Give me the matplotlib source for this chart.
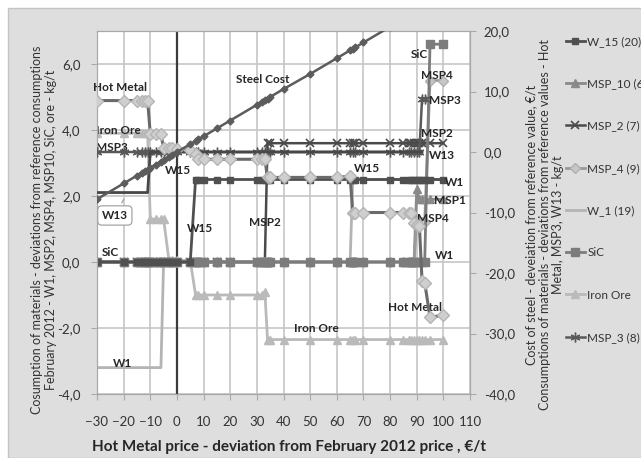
import numpy as np
import matplotlib.pyplot as plt
from matplotlib.patches import Rectangle
from matplotlib.ticker import FuncFormatter, MultipleLocator

plt.rcParams['font.family'] = ['Lato', 'DejaVu Sans']

# Hot Metal price deviation from February 2012 price, EUR/t
x_price = [-30, -20, -15, -13, -12, -11, -10, -8, -6, -5, -3, -2, 0, 5, 7, 8, 10, 15,
           20, 30, 32, 33, 34, 35, 40, 50, 60, 65, 66, 67, 70, 80, 85, 87, 88, 89,
           90, 91, 92, 93, 95, 100]

nan = np.nan

# left axis series, kg/t
w15 = [0.0] * 14 + [2.5] * 28
msp10 = [0.0] * 36 + [2.2, 1.9, 1.9, 1.9, 1.9, 1.9]
msp2 = [0.0] * 22 + [3.6] * 20
msp4 = [0.0] * 36 + [1.25, 1.2, 1.2, 1.2, 5.5, 5.5]
w1 = [-3.2] * 9 + [0.0] * 19 + [2.5] * 14
sic = [0.0] * 40 + [6.6, 6.6]
iron_ore = [3.9] * 6 + [1.3] * 4 + [0.05] * 4 + [-1.0] * 7 + [-0.9] + [-2.35] * 20

# right axis series
msp3 = [0.0] * 38 + [8.8, 8.8, nan, nan]
w13 = [-6.7] * 6 + [0.0] * 33 + [nan, nan, nan]
hot_metal = ([8.5] * 6 + [3.0] * 3 + [0.6] * 3 + [0.5, 0.25, -0.25, -1.2] + [-1.2] * 6
             + [-4.2] * 5 + [-4.0] + [-10.0] * 7 + [-11.8, -12.0, -12.2, -21.3, -21.6, -27.3, -27.0])
steel_cost = [-7.8, -5.2, -3.9, -3.4, -3.1, -2.9, -2.6, -2.1, -1.6, -1.3, -0.8, -0.5, 0.0, 1.3,
              1.8, 2.1, 2.6, 3.9, 5.2, 7.8, 8.3, 8.6, 8.8, 9.1, 10.4, 12.9, 15.5, 16.8, 17.1,
              17.3, 18.1, 20.7, 22.0, 22.5, 22.8, 23.0, 23.3, 23.5, 23.8, 24.1, 24.6, 25.9]

fig = plt.figure(figsize=(6.41, 4.58), dpi=100)
fig.patches.append(Rectangle((8 / 641, 0), 1, 450 / 458, transform=fig.transFigure,
                             facecolor='#dedede', edgecolor='#c4c4c4', lw=1, zorder=-10))

ax = fig.add_axes([97 / 641, 1 - 394 / 458, 373 / 641, 363 / 458])
ax2 = ax.twinx()
ax.set_facecolor('white')
ax2.patch.set_visible(False)

ax.set_xlim(-30, 110)
ax.set_ylim(-4, 7)
ax2.set_ylim(-40, 20)
ax.xaxis.set_major_locator(MultipleLocator(10))
ax.set_yticks([-4, -2, 0, 2, 4, 6])
ax2.set_yticks([-40, -30, -20, -10, 0, 10, 20])
fmt = FuncFormatter(lambda v, p: f"{v:.1f}".replace('.', ','))
ax.yaxis.set_major_formatter(fmt)
ax2.yaxis.set_major_formatter(fmt)
ax.grid(True, color='#c6c6c6', lw=1.2, zorder=0)
ax.set_axisbelow(True)
ax.axvline(0, color='#3a3a3a', lw=1.6, zorder=1)

for a in (ax, ax2):
    for s in a.spines.values():
        s.set_color('#a8a8a8')
    a.tick_params(colors='#a8a8a8', labelcolor='#333333', labelsize=9.5, length=4)
ax.tick_params(axis='x', pad=12)
ax.tick_params(axis='y', pad=8)
ax2.tick_params(axis='y', pad=6)

# left axis series
l_w15, = ax.plot(x_price, w15, color='#505050', lw=2, marker='s', ms=5, zorder=4)
l_msp10, = ax.plot(x_price, msp10, color='#8a8a8a', lw=2, marker='^', ms=5.5, zorder=3)
l_msp2, = ax.plot(x_price, msp2, color='#4a4a4a', lw=1.8, marker='x', ms=6, mew=1.2,
                  zorder=3)
l_msp4, = ax.plot(x_price, msp4, color='#9a9a9a', lw=2, marker='D', ms=5,
                  mfc='#c6c6c6', mec='#b0b0b0', zorder=3)
l_w1, = ax.plot(x_price, w1, color='#b4b4b4', lw=2, zorder=2)
l_sic, = ax.plot(x_price, sic, color='#7c7c7c', lw=2, marker='s', ms=5.5, zorder=3)
l_ore, = ax.plot(x_price, iron_ore, color='#bababa', lw=2, marker='^', ms=5.5, zorder=2)

# right axis series
l_msp3, = ax2.plot(x_price, msp3, color='#595959', lw=1.8, marker=(6, 2, 0), ms=7,
                   mew=1.0, zorder=3)
ax2.plot(x_price, w13, color='#484848', lw=2, zorder=3)
ax2.plot(x_price, hot_metal, color='#6a6a6a', lw=2.2, marker='D', ms=6.5,
         mfc='#cfcfcf', mec='#b5b5b5', zorder=4)
ax2.plot(x_price, steel_cost, color='#5c5c5c', lw=1.8, marker='D', ms=3.5, zorder=4)

# series labels
lab = dict(fontsize=8.5, fontweight='bold', color='#262626', ha='center', va='center',
           zorder=6)
ax.text(-21.4, 5.29, 'Hot Metal', **lab)
ax.text(-22.1, 4.0, 'Iron Ore', **lab)
ax.text(-24.4, 3.46, 'MSP3', **lab)
ax.text(0.4, 2.77, 'W15', **lab)
ax.text(32.2, 5.52, 'Steel Cost', **lab)
ax.text(8.6, 1.02, 'W15', **lab)
ax.text(33.0, 1.2, 'MSP2', **lab)
ax.text(-25.1, 0.29, 'SiC', **lab)
ax.text(-20.3, -3.09, 'W1', **lab)
ax.text(52.5, -2.03, 'Iron Ore', **lab)
ax.text(89.2, -1.37, 'Hot Metal', **lab)
ax.text(91.1, 6.3, 'SiC', **lab)
ax.text(97.5, 5.64, 'MSP4', **lab)
ax.text(100.5, 4.88, 'MSP3', **lab)
ax.text(97.5, 3.89, 'MSP2', **lab)
ax.text(99.4, 3.22, 'W13', **lab)
ax.text(71.2, 2.83, 'W15', **lab)
ax.text(104.2, 2.4, 'W1', **lab)
ax.text(102.4, 1.86, 'MSP1', **lab)
ax.text(96.0, 1.32, 'MSP4', **lab)
ax.text(100.5, 0.2, 'W1', **lab)
ax.annotate('W13', xy=(-19.5, 1.97), xytext=(-23.3, 1.41), fontsize=8.5,
            fontweight='bold', color='#262626', ha='center', va='center', zorder=6,
            bbox=dict(boxstyle='round,pad=0.35', fc='white', ec='#9a9a9a', lw=0.8),
            arrowprops=dict(arrowstyle='-', color='#9a9a9a', lw=0.8))

fig.text(289 / 641, 1 - 447 / 458,
         'Hot Metal price - deviation from February 2012 price , \u20ac/t',
         ha='center', va='center', fontsize=11, fontweight='bold', color='#262626')
fig.text(44 / 641, 1 - 230 / 458,
         'Cosumption of materials - deviations from reference consumptions\n'
         'February 2012 - W1, MSP2, MSP4, MSP10, SiC, ore - kg/t',
         rotation=90, ha='center', va='center', multialignment='center',
         fontsize=9, color='#333333', linespacing=1.15)
fig.text(545 / 641, 1 - 225 / 458,
         'Cost of steel - deveiation from reference value, \u20ac/t\n'
         'Consumptions of materials - deviations from reference values - Hot\n'
         'Metal, MSP3, W13 - kg/t',
         rotation=90, ha='center', va='center', multialignment='center',
         fontsize=9, color='#333333', linespacing=1.15)

handles = [l_w15, l_msp10, l_msp2, l_msp4, l_w1, l_sic, l_ore, l_msp3]
names = ['W_15 (20)', 'MSP_10 (6)', 'MSP_2 (7)', 'MSP_4 (9)', 'W_1 (19)', 'SiC',
         'Iron Ore', 'MSP_3 (8)']
fig.legend(handles, names, loc='upper left', bbox_to_anchor=(560 / 641, 1 - 30 / 458),
           frameon=False, fontsize=8.5, labelspacing=2.65, handlelength=1.6,
           handletextpad=0.2, borderpad=0, labelcolor='#333333')

fig.savefig('out.png', dpi=100)
